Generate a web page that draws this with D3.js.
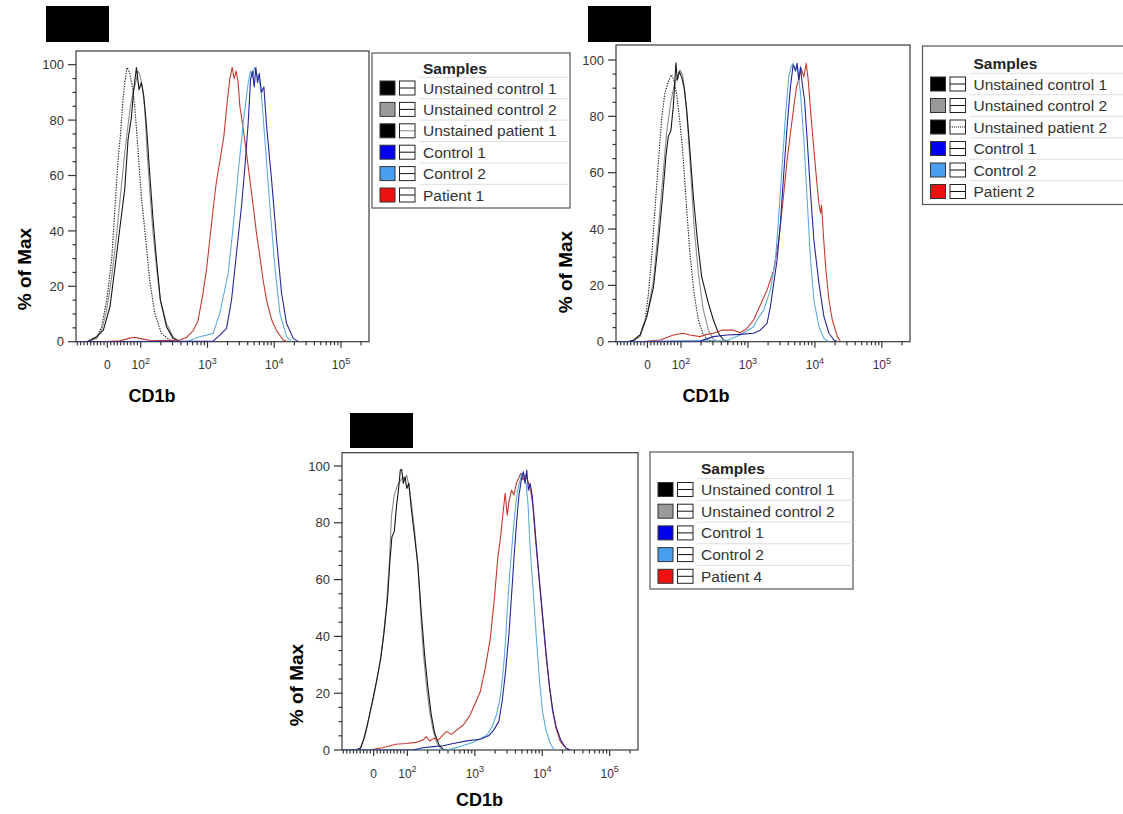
<!DOCTYPE html>
<html><head><meta charset="utf-8">
<script src="https://cdn.jsdelivr.net/npm/d3@7"></script>
<style>body{margin:0;background:#fff}svg{display:block}</style>
</head><body>
<svg id="c" width="1123" height="814"></svg>
<script>
// ---------------- DATA ----------------
const yMajor = [0, 20, 40, 60, 80, 100];
const yMinor = [5,10,15,25,30,35,45,50,55,65,70,75,85,90,95];
const xMajor = [0, 100, 1000, 10000, 100000];
const xMajorBase = ["0", "10", "10", "10", "10"];
const xMajorExp = ["", "2", "3", "4", "5"];
const xMinor = [-90,-80,-70,-60,-50,-40,-30,-20,-10,10,20,30,40,50,60,70,80,90,
  200,300,400,500,600,700,800,900,2000,3000,4000,5000,6000,7000,8000,9000,
  20000,30000,40000,50000,60000,70000,80000,90000,200000];

const legendTitle = "Samples";
const samples1 = ["Unstained control 1","Unstained control 2","Unstained patient 1","Control 1","Control 2","Patient 1"];
const samples2 = ["Unstained control 1","Unstained control 2","Unstained patient 2","Control 1","Control 2","Patient 2"];
const samples3 = ["Unstained control 1","Unstained control 2","Control 1","Control 2","Patient 4"];
const xTitle = "CD1b";
const yTitle = "% of Max";

// Panel 1 (CD1b value, % of max)
const p1Unst1 = [[-60,0],[-32,1.8],[-12,4.2],[8,12.7],[23,27],[38,41.6],[52,55],[62,73],[72,81],[79,91],[87,99],[95,91],[102,93.5],[111,88.7],[122,77.8],[136,61],[153,44],[172,29.6],[197,15],[243,5.4],[305,1.2],[385,0]];
const p1Unst2 = [[-60,0],[-32,1.2],[-17,4.2],[-2,11.5],[13,23.5],[28,39],[40,53.7],[50,65.7],[59,75.4],[69,85],[77,90],[85,93.5],[92,97.7],[97,96.5],[106,92],[115,84],[124,69],[136,55],[153,39],[172,27],[197,15],[243,6.6],[305,1.8],[385,0]];
const p1UnstPat = [[-60,0],[-32,1.8],[-17,5.4],[-2,15],[13,29.6],[23,49],[33,67],[38,73],[47,87.5],[52,93.5],[59,99],[67,97],[75,92],[82,85],[92,69],[102,52.5],[119,36.8],[136,22.3],[162,10.3],[204,3],[272,0.6],[330,0]];
const p1Ctrl1 = [[-94,0],[1216,0.2],[1531,2.4],[1928,4.8],[2291,15],[2723,32],[3236,49],[3631,63],[4074,79],[4416,94.7],[4732,97.7],[5012,92],[5309,99],[5623,93.5],[5957,96.9],[6457,90],[6998,92],[7674,78],[9120,58.5],[10839,36.8],[12882,17.5],[15311,6.6],[19275,1.2],[22909,0]];
const p1Ctrl2 = [[484,0],[767,1.8],[1216,3],[1531,10.3],[2042,24.7],[2427,41.6],[2884,61],[3428,79],[4074,93.5],[4416,97.7],[4732,95.3],[5070,99],[5433,96.5],[5957,94.7],[6457,88.7],[7244,73],[8610,48.9],[10233,27],[12162,10.3],[15311,1.8],[18197,0]];
const p1Pat = [[-22,0],[38,0.3],[67,1.3],[82,1.6],[97,1.2],[136,0.5],[243,0.4],[385,0.6],[484,1.5],[610,4],[720,7.5],[851,17],[966,26],[1084,37],[1216,48],[1365,58],[1531,65],[1620,69],[1757,74],[1928,84],[2163,95],[2344,99],[2512,95],[2692,97.7],[2884,93.5],[3055,85],[3428,77],[3846,68],[4315,58.5],[4842,49],[5433,39],[6095,31],[6839,22],[7674,15],[9120,8],[10839,4],[13646,0.6],[16000,0]];

// Panel 2
const p2Unst1 = [[-60,0],[-42,0.5],[-22,2.4],[-2,8.9],[18,19.5],[33,36],[46,52.7],[55,65.7],[62,72.8],[70,75],[77,83.4],[82,92.9],[85,99],[89,92.9],[95,95.9],[102,94],[111,90.5],[122,82.2],[136,68],[153,51.5],[176,36],[204,23],[229,18.3],[257,13.6],[305,7.7],[363,3],[432,0.6],[543,0]];
const p2Unst2 = [[-60,0],[-42,0.3],[-22,1.8],[-2,8.9],[18,21.9],[33,40.8],[46,58.6],[57,74],[69,84.6],[79,90.5],[89,94],[97,96.4],[106,94.7],[115,88.2],[126,76.3],[140,59.8],[157,40.8],[182,24.3],[216,11.2],[257,4.1],[305,0.8],[363,0]];
const p2UnstPat = [[-60,0],[-42,0.3],[-22,2.4],[-7,7.7],[3,17],[13,31],[23,48],[33,64.5],[43,80],[52,88.2],[62,92.3],[72,94.7],[79,92.9],[87,88],[95,80],[106,68],[119,50.3],[136,31.4],[157,17],[182,7.7],[216,2.4],[257,0.6],[305,0]];
const p2Ctrl1 = [[-94,0],[193,0.2],[305,1.8],[484,2.4],[767,2.6],[1216,3],[1531,4.1],[1928,6.5],[2163,12.4],[2427,20.7],[2723,29],[3055,42],[3428,59.8],[3846,76.3],[4315,90.5],[4732,98.2],[5129,96.4],[5433,98.8],[5754,92.9],[6095,97.6],[6457,91.7],[6998,85.8],[7674,71.6],[8610,52.7],[9660,36],[11482,20.7],[13646,8.9],[16218,3],[19275,0.6],[21627,0]];
const p2Ctrl2 = [[-94,0],[484,0.4],[767,2.4],[1216,5.3],[1365,7.7],[1718,11.2],[2163,18.3],[2570,29],[2884,44.4],[3236,62],[3631,79.9],[4074,94],[4416,97.6],[4732,98.8],[5129,95.9],[5433,97.6],[6095,88.2],[6839,71.6],[7674,50.3],[8610,29],[9660,14.8],[11482,5.3],[13646,1.2],[16218,0]];
const p2Pat = [[-22,0],[38,0.6],[77,2.4],[108,3],[136,2.4],[193,1.8],[243,2.6],[305,3],[407,4.1],[610,4.1],[767,3.2],[966,4.7],[1216,7.7],[1531,13],[1928,18.3],[2427,25.4],[2884,36],[3350,50.3],[3846,64.5],[4315,74],[4842,83.4],[5309,90.5],[5754,92.9],[6237,97],[6839,94],[7413,98.8],[7943,92.9],[8610,82.2],[9660,68],[10839,55],[11482,49.1],[12162,45.6],[12589,48.5],[13335,38.5],[14454,26.6],[16218,14.8],[18197,7.7],[21627,1.8],[24266,0]];

// Panel 3
const p3Unst1 = [[-94,0],[-54,0],[-39,0.6],[-29,4.1],[-19,8.8],[-4,17],[8,24],[21,32.3],[31,41.7],[41,53.4],[48,66.3],[54,75],[61,76.9],[68,86.3],[74,92.1],[79,98.6],[83,98.8],[88,93.9],[93,96.2],[98,92.1],[105,93.9],[114,85.1],[127,75.7],[143,65.1],[160,48.7],[180,33.5],[202,21.7],[226,12.3],[254,5.9],[295,1.8],[339,0.2],[380,0]];
const p3Unst2 = [[-94,0],[-54,0],[-39,0.8],[-26,4.7],[-14,11.2],[1,19.4],[16,28.8],[28,39.3],[38,51],[46,65.1],[53,82.7],[61,89.8],[71,93.3],[78,94.5],[86,96.2],[92,95.1],[98,96.8],[105,93.3],[114,87.4],[127,78],[143,65.1],[155,51],[170,35.8],[191,22.9],[214,13.5],[240,7],[275,2.3],[320,0]];
const p3Ctrl1 = [[-94,0],[120,0],[170,0.8],[240,1.2],[339,1.5],[479,2.3],[759,3.2],[1202,3.8],[1603,5],[1905,7],[2265,10],[2541,17],[2851,27.6],[3199,40.5],[3508,54.6],[3802,67.5],[4169,80.4],[4519,89.8],[4898,95.1],[5248,98],[5559,93.9],[5888,98.6],[6237,91.5],[6607,93.9],[7079,89.8],[7586,81.6],[8318,69.8],[9120,59.3],[10116,47.5],[11350,34.6],[12735,22.9],[14289,14.1],[16032,8.2],[19055,3.2],[22646,0.6],[26303,0]];
const p3Ctrl2 = [[-94,0],[380,0],[603,1.2],[955,2.7],[1514,5.3],[1799,8.2],[2089,12.3],[2344,17.6],[2570,25.2],[2786,34.6],[3020,48.7],[3311,62.8],[3631,74.5],[3936,83.9],[4266,91],[4624,94.5],[5012,97.4],[5370,96.2],[5754,93.9],[6166,86.3],[6531,73.4],[6998,62.8],[7586,51.1],[8318,37],[9120,24.1],[10116,13.5],[11350,7],[13183,2.3],[15136,0]];
const p3Pat = [[-14,0],[26,0.8],[66,2],[96,2.3],[135,2.7],[170,3.5],[191,4.7],[214,3.2],[246,4.1],[285,3.5],[339,5.3],[380,6.5],[452,5.5],[537,7],[676,8.8],[851,12.3],[1012,16.4],[1202,20.5],[1429,28.8],[1698,39.3],[1950,53.4],[2188,67.5],[2399,74.5],[2630,83.9],[2818,90.4],[3020,82.7],[3236,88],[3508,91.5],[3802,89.8],[4121,93.9],[4467,95.7],[4786,97.4],[5188,95.1],[5623,96.8],[6166,94.5],[6761,91],[7244,86.3],[7762,76.9],[8511,66.3],[9333,55.8],[10351,44],[11482,32.3],[12882,21.7],[14289,13.5],[16032,7.6],[18621,2.9],[22646,0.6],[25410,0]];

// ---------------- STYLE / LAYOUT ----------------
const styles = {
  unst1:   {stroke:"#161616", dash:null,      swatch:"#000000"},
  unst2:   {stroke:"#8e8e8e", dash:null,      swatch:"#9a9a9a"},
  unstPat: {stroke:"#161616", dash:"1.3,1.3", swatch:"#000000"},
  ctrl1:   {stroke:"#26269a", dash:null,      swatch:"#0000ee"},
  ctrl2:   {stroke:"#5cadd8", dash:null,      swatch:"#4a9ff0"},
  pat:     {stroke:"#c43a30", dash:null,      swatch:"#ee1111"}
};
const drawOrder = ["unstPat","unst2","unst1","pat","ctrl2","ctrl1"];

const panels = [
  {L:76, R:369, T:51, B:341.7, y100:64.7,
   series:{unst1:p1Unst1, unst2:p1Unst2, unstPat:p1UnstPat, ctrl1:p1Ctrl1, ctrl2:p1Ctrl2, pat:p1Pat},
   legendKeys:["unst1","unst2","unstPat","ctrl1","ctrl2","pat"], names:samples1,
   legend:{x:372, y:53, w:198, h:155, titleY:68, row0:88, rowH:21.4},
   box:{x:46, y:6, w:63, h:36},
   yt:{x:31, y:269}, xt:{x:152, y:402}},
  {L:616, R:910, T:45, B:341.7, y100:60,
   series:{unst1:p2Unst1, unst2:p2Unst2, unstPat:p2UnstPat, ctrl1:p2Ctrl1, ctrl2:p2Ctrl2, pat:p2Pat},
   legendKeys:["unst1","unst2","unstPat","ctrl1","ctrl2","pat"], names:samples2,
   legend:{x:922.5, y:46, w:203, h:158.5, titleY:63.5, row0:84, rowH:21.5},
   box:{x:588, y:6, w:63, h:36},
   yt:{x:572, y:272}, xt:{x:706, y:402}},
  {L:342, R:638, T:452.7, B:750, y100:466,
   series:{unst1:p3Unst1, unst2:p3Unst2, ctrl1:p3Ctrl1, ctrl2:p3Ctrl2, pat:p3Pat},
   legendKeys:["unst1","unst2","ctrl1","ctrl2","pat"], names:samples3,
   legend:{x:650, y:452, w:203, h:137, titleY:468.3, row0:489.5, rowH:21.7},
   box:{x:350, y:413, w:63, h:35},
   yt:{x:303, y:685}, xt:{x:479.5, y:806}}
];

const FONT = "'Liberation Sans', Arial, Helvetica, sans-serif";
function tx(v){ return v >= 100 ? Math.log10(v) : 2 - (100 - v) / 200; }

const svg = d3.select("#c");
svg.append("rect").attr("width",1123).attr("height",814).attr("fill","#fff");

panels.forEach((p, pi) => {
  const g = svg.append("g");
  const xs = d3.scaleLinear().domain([1.03, 5.42]).range([p.L, p.R]);
  const X = v => xs(tx(v));
  const ys = d3.scaleLinear().domain([0, 100]).range([p.B, p.y100]);

  // redaction box
  g.append("rect").attr("x",p.box.x).attr("y",p.box.y).attr("width",p.box.w).attr("height",p.box.h).attr("fill","#000");

  // clip
  const cid = "clip"+pi;
  svg.append("clipPath").attr("id",cid).append("rect")
    .attr("x",p.L).attr("y",p.T).attr("width",p.R-p.L).attr("height",p.B-p.T);

  // frame
  g.append("rect").attr("x",p.L).attr("y",p.T).attr("width",p.R-p.L).attr("height",p.B-p.T)
    .attr("fill","#fff").attr("stroke","#3a3a3a").attr("stroke-width",1.2);

  // curves
  const line = d3.line().x(d => X(d[0])).y(d => ys(d[1])).curve(d3.curveLinear);
  const cg = g.append("g").attr("clip-path","url(#"+cid+")");
  drawOrder.forEach(k => {
    if (!p.series[k]) return;
    const s = styles[k];
    cg.append("path").datum(p.series[k]).attr("d", line)
      .attr("fill","none").attr("stroke", s.stroke).attr("stroke-width", 1.1)
      .attr("stroke-linejoin","round")
      .attr("stroke-dasharray", s.dash);
  });

  // y ticks
  const ax = g.append("g").attr("stroke","#333").attr("stroke-width",1.2);
  yMajor.forEach(v => ax.append("line").attr("x1",p.L-8).attr("x2",p.L).attr("y1",ys(v)).attr("y2",ys(v)));
  yMinor.forEach(v => ax.append("line").attr("x1",p.L-3.5).attr("x2",p.L).attr("y1",ys(v)).attr("y2",ys(v)));
  yMajor.forEach(v => g.append("text").attr("x",p.L-12).attr("y",ys(v)+4.6)
    .attr("text-anchor","end").attr("font-family",FONT).attr("font-size",13).attr("fill","#333").text(v));

  // x ticks
  xMajor.forEach(v => ax.append("line").attr("x1",X(v)).attr("x2",X(v)).attr("y1",p.B).attr("y2",p.B+6));
  xMinor.forEach(v => ax.append("line").attr("x1",X(v)).attr("x2",X(v)).attr("y1",p.B).attr("y2",p.B+3.5));
  xMajor.forEach((v,i) => {
    const t = g.append("text").attr("x",X(v)).attr("y",p.B+27.5).attr("text-anchor","middle")
      .attr("font-family",FONT).attr("font-size",12).attr("fill","#333");
    t.append("tspan").text(xMajorBase[i]);
    if (xMajorExp[i]) t.append("tspan").attr("dy",-5.5).attr("font-size",9).text(xMajorExp[i]);
  });

  // axis titles
  g.append("text").attr("transform","translate("+p.yt.x+","+p.yt.y+") rotate(-90)")
    .attr("text-anchor","middle").attr("font-family",FONT).attr("font-weight","bold")
    .attr("font-size",19).attr("fill","#000").text(yTitle);
  g.append("text").attr("x",p.xt.x).attr("y",p.xt.y).attr("text-anchor","middle")
    .attr("font-family",FONT).attr("font-weight","bold").attr("font-size",18).attr("fill","#000").text(xTitle);

  // legend
  const lg = p.legend;
  const L = g.append("g");
  L.append("rect").attr("x",lg.x).attr("y",lg.y).attr("width",lg.w).attr("height",lg.h)
    .attr("fill","#fff").attr("stroke","#555").attr("stroke-width",1.2);
  L.append("text").attr("x",lg.x+51).attr("y",lg.titleY+5.5).attr("font-family",FONT)
    .attr("font-weight","bold").attr("font-size",15.5).attr("fill","#222").text(legendTitle);
  p.legendKeys.forEach((k,i) => {
    const cy = lg.row0 + i*lg.rowH;
    const s = styles[k];
    L.append("line").attr("x1",lg.x+47).attr("x2",lg.x+lg.w).attr("y1",cy-lg.rowH/2).attr("y2",cy-lg.rowH/2)
      .attr("stroke","#dedede").attr("stroke-width",1);
    L.append("rect").attr("x",lg.x+8).attr("y",cy-7).attr("width",15).attr("height",14)
      .attr("fill",s.swatch).attr("stroke","#333").attr("stroke-width",1);
    L.append("rect").attr("x",lg.x+27.5).attr("y",cy-7).attr("width",15.5).attr("height",14)
      .attr("fill","#fff").attr("stroke","#222").attr("stroke-width",1);
    L.append("line").attr("x1",lg.x+27.5).attr("x2",lg.x+43).attr("y1",cy).attr("y2",cy)
      .attr("stroke","#111").attr("stroke-width",1).attr("stroke-dasharray", s.dash ? "1,1" : null);
    L.append("text").attr("x",lg.x+51).attr("y",cy+5.5).attr("font-family",FONT)
      .attr("font-size",15.5).attr("fill","#333").text(p.names[i]);
  });
});
</script>
</body></html>
